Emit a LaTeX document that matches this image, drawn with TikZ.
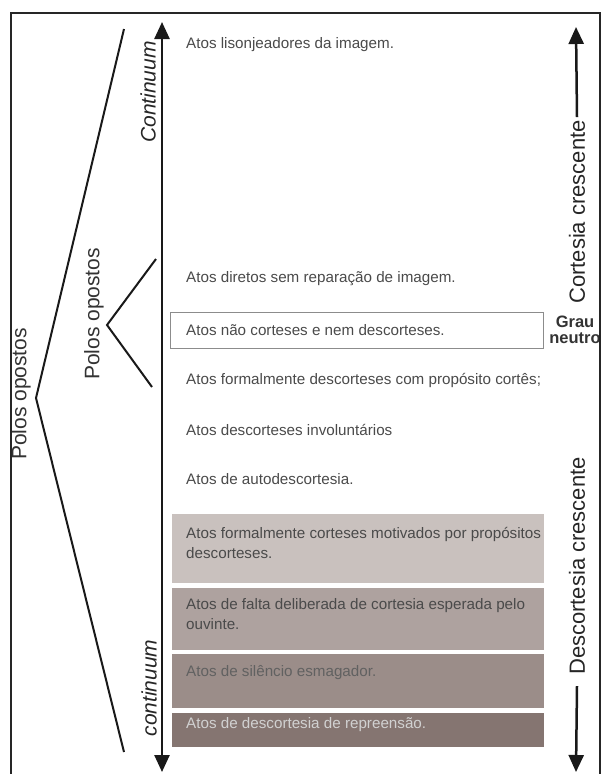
\documentclass[tikz,border=0pt]{standalone}
\usepackage{fontspec}
\setmainfont{Liberation Sans}
\usetikzlibrary{positioning, arrows.meta}

\definecolor{txtgray}{HTML}{4A4A4A}
\definecolor{bandA}{HTML}{C9C1BE}
\definecolor{bandB}{HTML}{AEA29F}
\definecolor{bandC}{HTML}{9B8D89}
\definecolor{bandD}{HTML}{857571}

\begin{document}
\begin{tikzpicture}[
    x=1pt, y=-1pt,
    acttext/.style={anchor=west, inner sep=0pt, text=txtgray, align=left,
      font=\fontsize{15.2}{20}\selectfont},
    bandbox/.style={anchor=north west, inner sep=0pt, minimum width=372pt},
    sidelabel/.style={rotate=90, inner sep=0pt, text=black!85, font=\fontsize{22}{26}\selectfont},
    polelabel/.style={rotate=90, inner sep=0pt, text=black!80, font=\fontsize{21}{25}\selectfont},
    axislabel/.style={rotate=90, inner sep=0pt, text=black!85, font=\fontsize{21}{25}\selectfont\itshape},
    poleline/.style={line width=2pt, draw=black!90},
    scalearrow/.style={line width=2.5pt, draw=black!90, -{Triangle[width=15pt,length=17pt]}}
  ]
  \useasboundingbox (0,0) rectangle (603,774);

  % bands of growing impoliteness
  \node[bandbox, fill=bandA, minimum height=69pt] (band1) at (172,514) {};
  \node[bandbox, fill=bandB, minimum height=62pt] (band2) at (172,588) {};
  \node[bandbox, fill=bandC, minimum height=54pt] (band3) at (172,654) {};
  \node[bandbox, fill=bandD, minimum height=34pt] (band4) at (172,713) {};

  % acts along the scale
  \node[acttext] (act1) at (186,45) {Atos lisonjeadores da imagem.};
  \node[acttext] (act2) at (186,279) {Atos diretos sem reparação de imagem.};
  \node[draw=black!45, line width=1pt, anchor=north west, minimum width=373pt,
    minimum height=36pt, inner sep=0pt] (neutralbox) at (170,312) {};
  \node[acttext] (act3) at (186,330) {Atos não corteses e nem descorteses.};
  \node[acttext] (act4) at (186,380) {Atos formalmente descorteses com propósito cortês;};
  \node[acttext] (act5) at (186,430) {Atos descorteses involuntários};
  \node[acttext] (act6) at (186,479) {Atos de autodescortesia.};
  \node[acttext] (act7) at (186,543) {Atos formalmente corteses motivados por propósitos\\descorteses.};
  \node[acttext] (act8) at (186,614) {Atos de falta deliberada de cortesia esperada pelo\\ouvinte.};
  \node[acttext, text=black!62] (act9) at (186,673) {Atos de silêncio esmagador.};
  \node[acttext, text=black!18] (act10) at (186,725) {Atos de descortesia de repreensão.};

  \node[align=center, inner sep=0pt, text=black!80, font=\fontsize{16.5}{16}\selectfont\bfseries]
    (neutral) at (575,330) {Grau\\neutro};

  % central continuum
  \coordinate (ctop) at (162,22);
  \coordinate (cbot) at (162,772);
  \draw[scalearrow, {Triangle[width=15pt,length=17pt]}-{Triangle[width=15pt,length=17pt]}] (cbot) -- (ctop);
  \node[axislabel] (contup) at (148,92) {Continuum};
  \node[axislabel] (contdown) at (149,688) {continuum};

  % right scale
  \node[sidelabel] (cortesia) at (577,212) {Cortesia crescente};
  \node[sidelabel] (descortesia) at (577,566) {Descortesia crescente};
  \coordinate (rtop) at (576,27);
  \coordinate (rbot) at (576,772);
  \draw[scalearrow] (cortesia.east) ++(0,-3) -- (rtop);
  \draw[scalearrow] (descortesia.west) ++(0,11) -- (rbot);

  % opposite poles
  \coordinate (bigtop) at (124,29);
  \coordinate (bigtip) at (36,398);
  \coordinate (bigbot) at (124,752);
  \draw[poleline] (bigtop) -- (bigtip) -- (bigbot);
  \node[polelabel] (poles1) at (21,394) {Polos opostos};

  \coordinate (smalltop) at (156,259);
  \coordinate (smalltip) at (107,325);
  \coordinate (smallbot) at (152,387);
  \draw[poleline] (smalltop) -- (smalltip) -- (smallbot);
  \node[polelabel] (poles2) at (94,314) {Polos opostos};

  % frame
  \draw[line width=1.6pt, black!85] (11,774) -- (11,13) -- (600,13) -- (600,774);
\end{tikzpicture}
\end{document}
